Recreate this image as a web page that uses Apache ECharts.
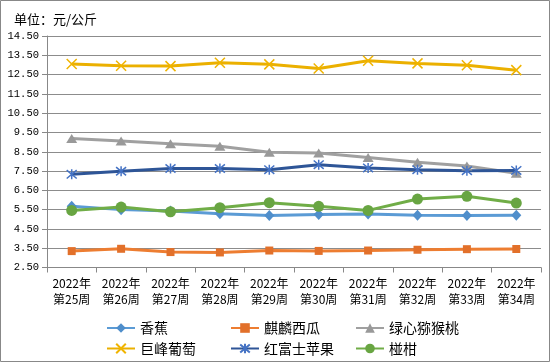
<!DOCTYPE html>
<html><head><meta charset="utf-8">
<script src="https://cdn.jsdelivr.net/npm/echarts@6/dist/echarts.min.js"></script>
<style>html,body{margin:0;padding:0;background:#fff}#c{width:550px;height:362px}</style>
</head><body><div id="c"></div>
<script>
const categories = ['2022年\n第25周','2022年\n第26周','2022年\n第27周','2022年\n第28周','2022年\n第29周','2022年\n第30周','2022年\n第31周','2022年\n第32周','2022年\n第33周','2022年\n第34周'];
const seriesNames = ['香蕉','麒麟西瓜','绿心猕猴桃','巨峰葡萄','红富士苹果','椪柑'];
const banana = [5.67, 5.50, 5.43, 5.29, 5.19, 5.25, 5.27, 5.21, 5.20, 5.21];
const watermelon = [3.35, 3.47, 3.30, 3.28, 3.38, 3.36, 3.38, 3.42, 3.45, 3.46];
const kiwi = [9.19, 9.06, 8.92, 8.79, 8.47, 8.44, 8.20, 7.95, 7.76, 7.38];
const grape = [13.05, 12.96, 12.94, 13.11, 13.03, 12.82, 13.22, 13.08, 12.98, 12.73];
const apple = [7.33, 7.49, 7.63, 7.63, 7.57, 7.83, 7.66, 7.57, 7.52, 7.53];
const citrus = [5.46, 5.63, 5.39, 5.60, 5.86, 5.67, 5.46, 6.05, 6.19, 5.84];
const yMin = 2.5, yMax = 14.5, yStep = 1;
const unitTitle = '单位：元/公斤';

const chart = echarts.init(document.getElementById('c'), null, {renderer:'canvas'});
const crossSym = 'path://M0,0L10,10M10,0L0,10';
const starSym = 'path://M0,0L10,10M10,0L0,10M5,-1L5,11';
function mk(name, data, lineColor, markColor, symbol, size, stroke){
  return {
    name, type:'line', data, symbol, symbolSize:size, showSymbol:true,
    lineStyle:{color:lineColor, width:3},
    itemStyle: stroke ? {color:'rgba(0,0,0,0)', borderColor:markColor, borderWidth:1.5} : {color:markColor, borderWidth:0},
    emphasis:{disabled:true}, animation:false
  };
}
const series = [
  mk(seriesNames[0], banana, '#5B9BD5', '#4F8ECB', 'diamond', [10,11]),
  mk(seriesNames[1], watermelon, '#ED7D31', '#E2702A', 'rect', 8),
  mk(seriesNames[2], kiwi, '#A0A0A0', '#999999', 'triangle', [11,9]),
  mk(seriesNames[3], grape, '#EBB000', '#F0B400', crossSym, 10, true),
  mk(seriesNames[4], apple, '#2E5597', '#4472C4', starSym, 10, true),
  mk(seriesNames[5], citrus, '#70AD47', '#68A542', 'circle', 11)
];
const colLeft = [101, 225, 350];
const rowTop = [316, 336.5];
const legends = seriesNames.map((n, i) => ({
  orient:'horizontal', itemWidth:28, itemHeight:12, itemGap:0,
  textStyle:{fontSize:14, color:'#000', fontFamily:'Noto Sans CJK SC'},
  selectedMode:false, left:colLeft[i % 3], top:rowTop[Math.floor(i / 3)], data:[n]
}));
chart.setOption({
  animation:false,
  backgroundColor:'#fff',
  title:{text:unitTitle, left:9, top:8, textStyle:{fontSize:13, fontWeight:'normal', color:'#000', fontFamily:'Noto Sans CJK SC'}},
  graphic:[{type:'rect', shape:{x:0.5,y:0.5,width:549,height:361}, style:{fill:'none', stroke:'#888', lineWidth:1}, silent:true}],
  grid:{left:47, right:9, top:36, bottom:94.5, containLabel:false},
  legend:legends,
  xAxis:{type:'category', data:categories, boundaryGap:true,
    axisLine:{lineStyle:{color:'#888', width:1}},
    axisTick:{show:true, length:5, alignWithLabel:false, lineStyle:{color:'#888'}},
    axisLabel:{color:'#000', fontSize:12, lineHeight:16, margin:8, interval:0, fontFamily:'Noto Sans CJK SC'},
    splitLine:{show:false}},
  yAxis:{type:'value', min:yMin, max:yMax, interval:yStep,
    axisLine:{show:true, lineStyle:{color:'#888'}},
    axisTick:{show:true, length:5, lineStyle:{color:'#888'}},
    axisLabel:{color:'#000', fontSize:10.5, margin:8, fontFamily:'Liberation Mono', formatter:v=>v.toFixed(2)},
    splitLine:{show:true, lineStyle:{color:'#8c8c8c', width:1}}},
  series
});
</script></body></html>
